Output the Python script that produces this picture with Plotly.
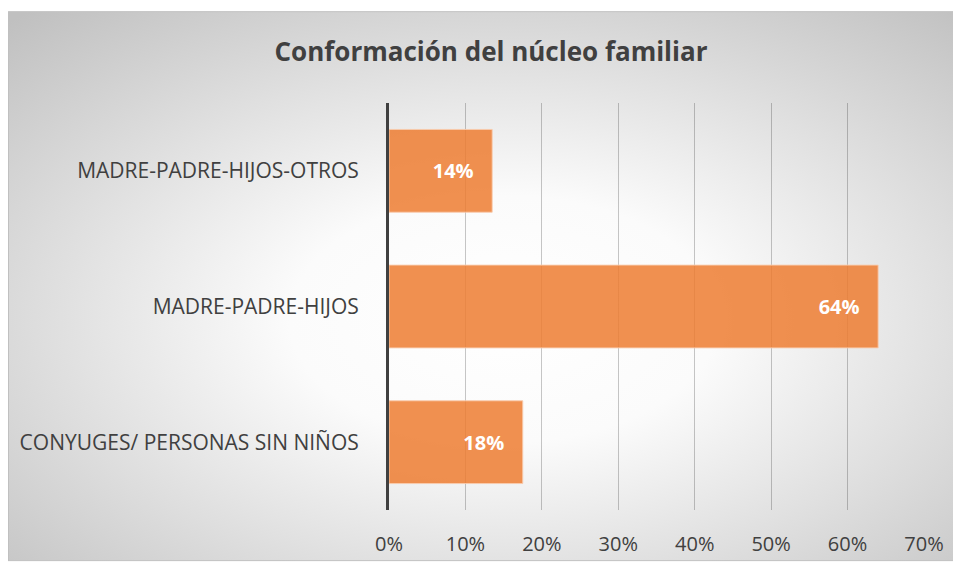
import plotly.graph_objects as go
import urllib.parse

# ---- data ----
categories = ["CONYUGES/ PERSONAS SIN NIÑOS", "MADRE-PADRE-HIJOS", "MADRE-PADRE-HIJOS-OTROS"]
values = [0.175, 0.64, 0.135]
value_labels = ["18%", "64%", "14%"]
tick_vals = [0, 0.1, 0.2, 0.3, 0.4, 0.5, 0.6, 0.7]
tick_text = ["0%", "10%", "20%", "30%", "40%", "50%", "60%", "70%"]
title_text = "Conformación del núcleo familiar"

# page body has an 8px margin, so the figure is sized to fit the window from (8,8)
W, H = 953, 561
L, R, T, B = 381, 37, 95, 56
pw, ph = W - L - R, H - T - B

svg = f'''<svg xmlns="http://www.w3.org/2000/svg" width="{W}" height="{H}" viewBox="0 0 {W} {H}" preserveAspectRatio="none">
<defs><radialGradient id="g" cx="0.52" cy="0.56" r="0.75" gradientUnits="objectBoundingBox">
<stop offset="0" stop-color="#ffffff"/><stop offset="0.3" stop-color="#fbfbfb"/><stop offset="1" stop-color="#c0c0c0"/></radialGradient></defs>
<rect x="0.5" y="3" width="952" height="553" fill="url(#g)" stroke="#c0c0c0" stroke-width="1"/></svg>'''
src = "data:image/svg+xml;charset=utf-8," + urllib.parse.quote(svg)

fig = go.Figure()
fig.add_trace(go.Bar(
    y=categories, x=values, orientation="h",
    text=[t + "\u00a0\u00a0\u00a0" for t in value_labels],
    textposition="inside", insidetextanchor="end",
    textfont=dict(family="Open Sans", size=20, color="white", weight="bold"),
    marker=dict(color="rgba(237,125,49,0.85)", line=dict(color="rgba(248,203,173,0.9)", width=1)),
    hoverinfo="skip",
))

fig.update_layout(
    width=W, height=H,
    margin=dict(l=L, r=R, t=T, b=B),
    paper_bgcolor="white", plot_bgcolor="rgba(0,0,0,0)",
    showlegend=False, bargap=0.39,
    title=dict(text=f"<b>{title_text}</b>", x=(483 - L) / pw, xref="paper", xanchor="center",
               y=1 - 44 / H, yanchor="middle",
               font=dict(family="Open Sans", size=26, color="#404040")),
    images=[dict(source=src, xref="paper", yref="paper",
                 x=-L / pw, y=1 + T / ph, sizex=W / pw, sizey=H / ph,
                 xanchor="left", yanchor="top", sizing="stretch", layer="below")],
    xaxis=dict(range=[0, 0.7], tickvals=tick_vals, ticktext=tick_text,
               showgrid=True, gridcolor="rgba(0,0,0,0.22)", gridwidth=1,
               zeroline=False, showline=False, ticks="",
               ticklabelstandoff=20,
               tickfont=dict(family="Open Sans", size=20, color="#404040"), fixedrange=True),
    yaxis=dict(showgrid=False, showline=True, linecolor="#404040", linewidth=3,
               ticks="", ticklabelstandoff=23,
               tickfont=dict(family="Open Sans", size=21, color="#404040"), fixedrange=True),
)

fig.write_html("out.html")
